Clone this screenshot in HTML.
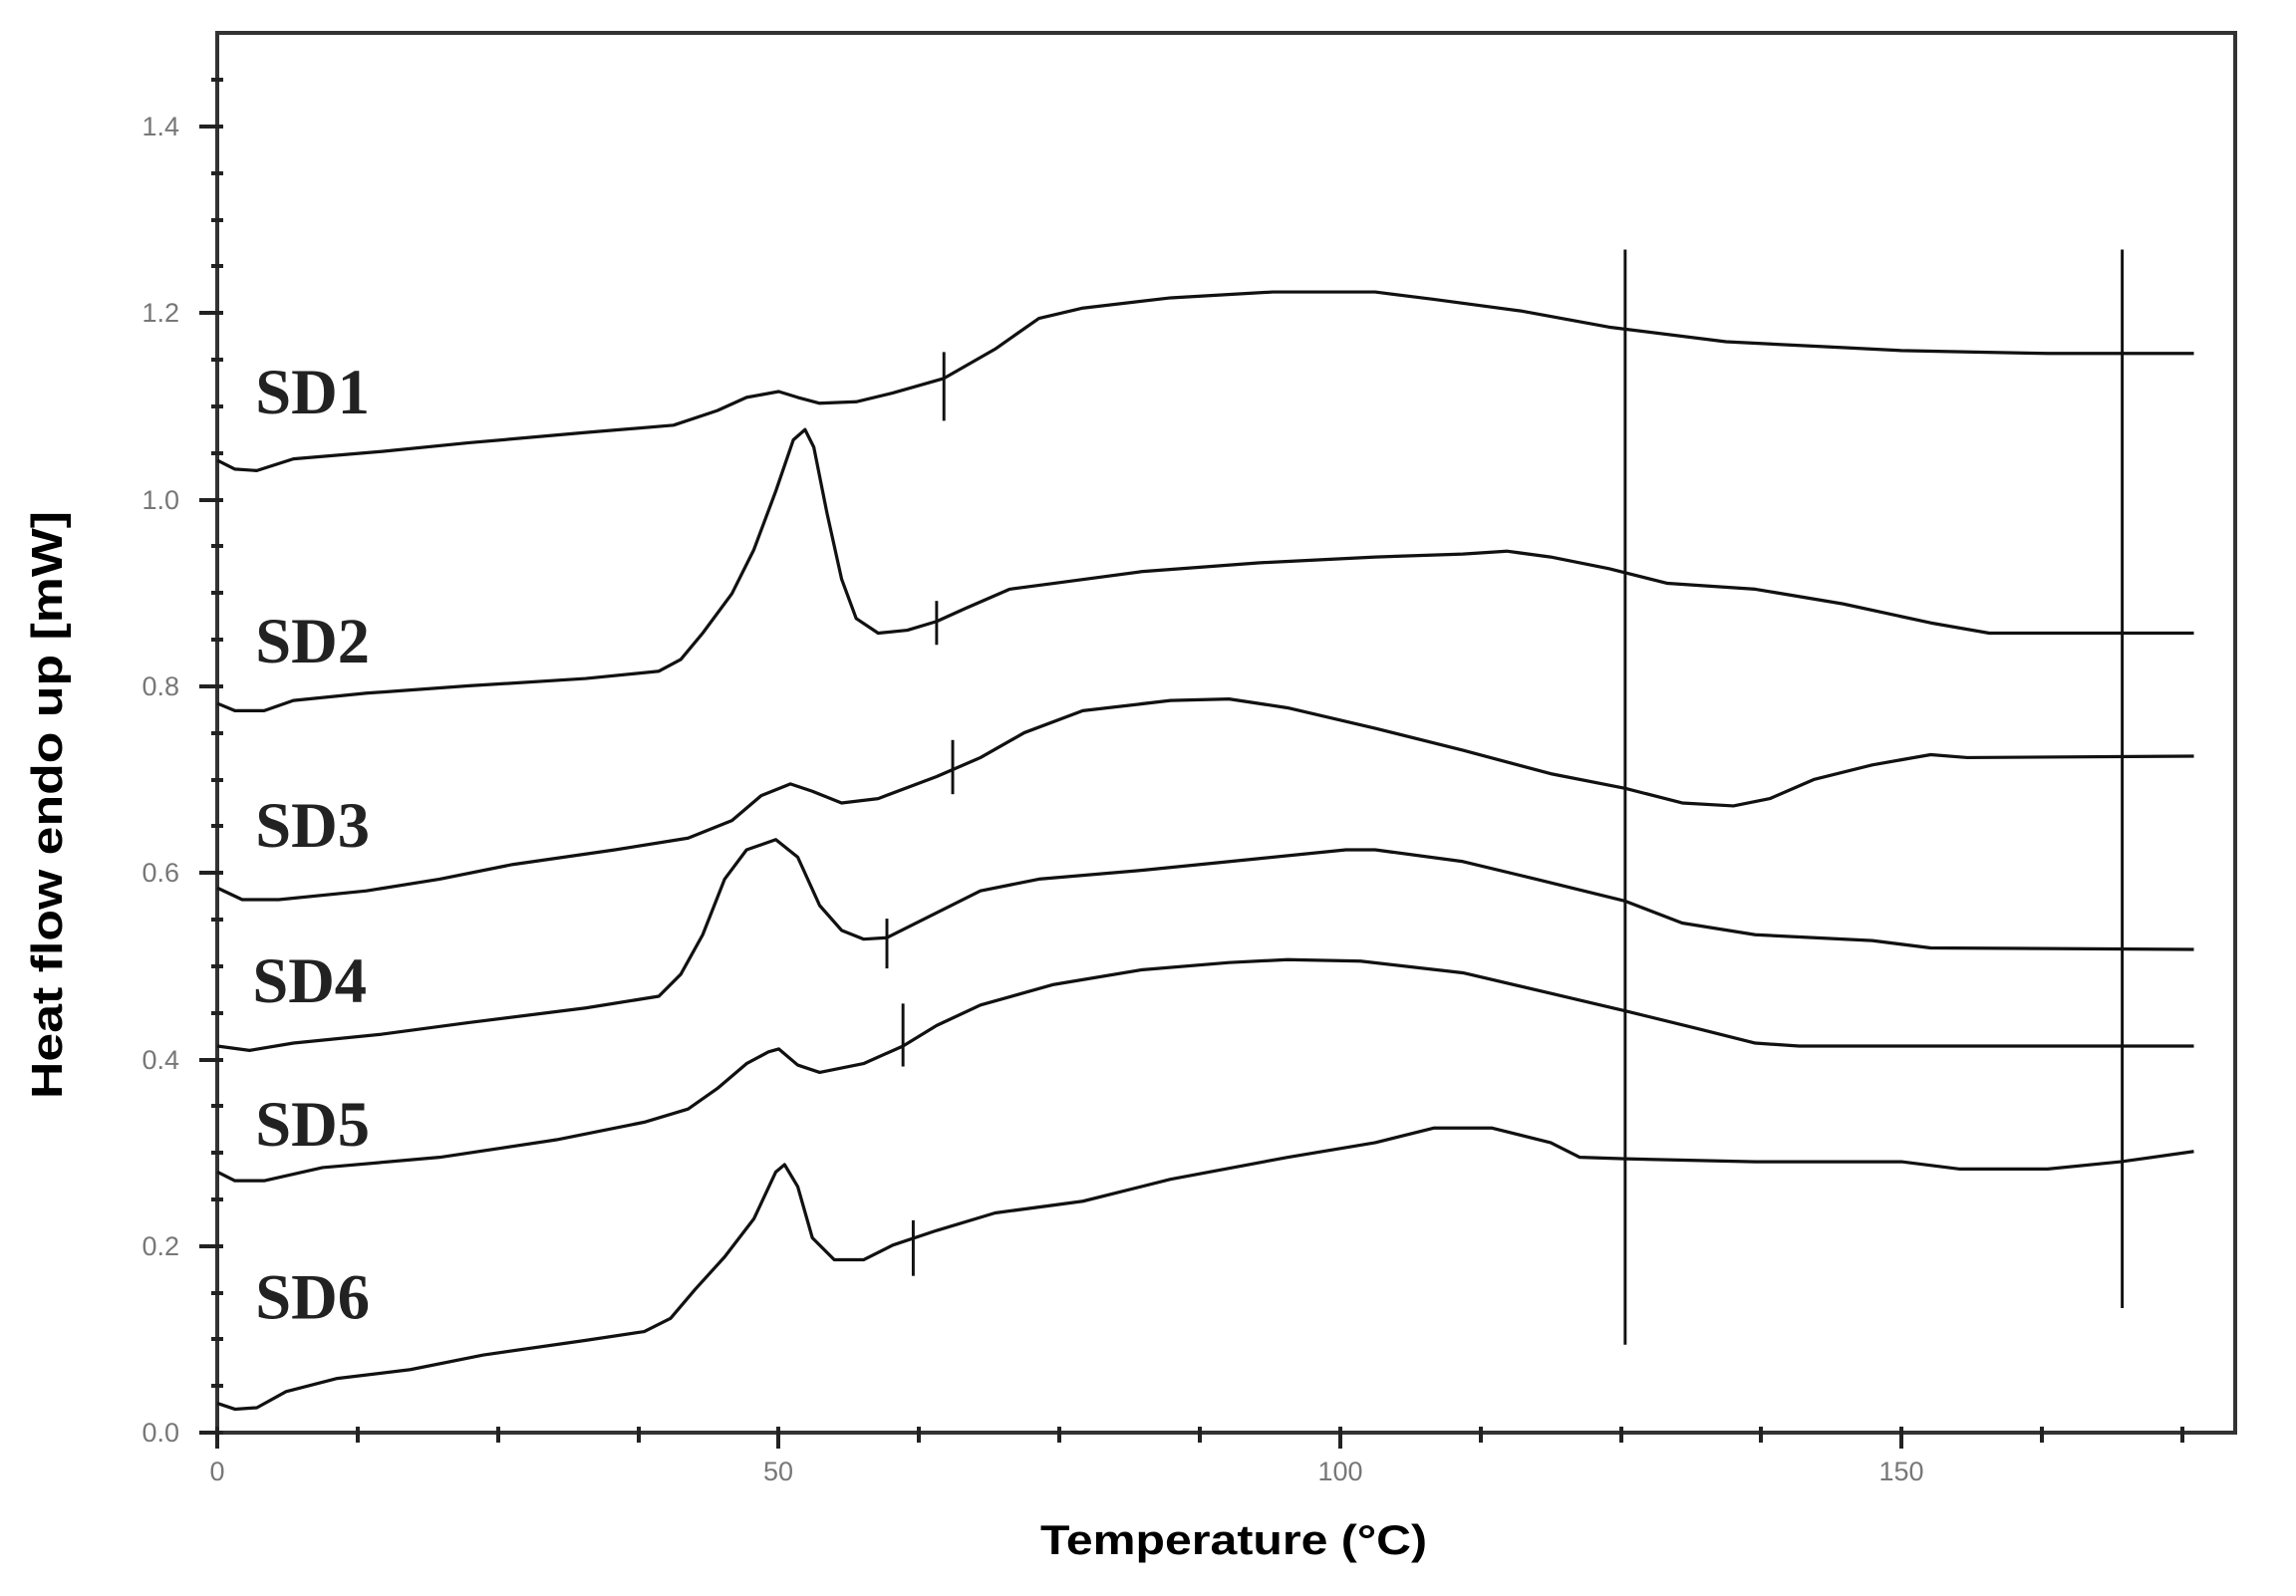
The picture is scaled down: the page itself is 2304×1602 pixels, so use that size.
<!DOCTYPE html>
<html><head><style>html,body{margin:0;padding:0;background:#fff}svg{display:block}</style></head>
<body>
<svg width="2304" height="1602" viewBox="0 0 2304 1602" xmlns="http://www.w3.org/2000/svg">
<rect width="2304" height="1602" fill="#fff"/>
<rect x="218" y="33" width="2025" height="1405" fill="none" stroke="#333" stroke-width="4"/>
<g stroke="#222" stroke-width="4">
<line x1="200" y1="1438" x2="224" y2="1438"/><line x1="200" y1="1251" x2="224" y2="1251"/><line x1="200" y1="1064" x2="224" y2="1064"/><line x1="200" y1="876" x2="224" y2="876"/><line x1="200" y1="689" x2="224" y2="689"/><line x1="200" y1="502" x2="224" y2="502"/><line x1="200" y1="314" x2="224" y2="314"/><line x1="200" y1="127" x2="224" y2="127"/>
</g>
<g stroke="#222" stroke-width="4">
<line x1="212" y1="1391" x2="224" y2="1391"/><line x1="212" y1="1344" x2="224" y2="1344"/><line x1="212" y1="1298" x2="224" y2="1298"/>
<line x1="212" y1="1204" x2="224" y2="1204"/><line x1="212" y1="1157" x2="224" y2="1157"/><line x1="212" y1="1110" x2="224" y2="1110"/>
<line x1="212" y1="1017" x2="224" y2="1017"/><line x1="212" y1="970" x2="224" y2="970"/><line x1="212" y1="923" x2="224" y2="923"/>
<line x1="212" y1="829" x2="224" y2="829"/><line x1="212" y1="783" x2="224" y2="783"/><line x1="212" y1="736" x2="224" y2="736"/>
<line x1="212" y1="642" x2="224" y2="642"/><line x1="212" y1="595" x2="224" y2="595"/><line x1="212" y1="548" x2="224" y2="548"/>
<line x1="212" y1="455" x2="224" y2="455"/><line x1="212" y1="408" x2="224" y2="408"/><line x1="212" y1="361" x2="224" y2="361"/>
<line x1="212" y1="267" x2="224" y2="267"/><line x1="212" y1="221" x2="224" y2="221"/><line x1="212" y1="174" x2="224" y2="174"/>
<line x1="212" y1="80" x2="224" y2="80"/>
</g>
<g stroke="#222" stroke-width="4">
<line x1="218" y1="1432" x2="218" y2="1454"/>
<line x1="359" y1="1432" x2="359" y2="1448"/><line x1="500" y1="1432" x2="500" y2="1448"/><line x1="641" y1="1432" x2="641" y2="1448"/>
<line x1="781" y1="1432" x2="781" y2="1454"/>
<line x1="922" y1="1432" x2="922" y2="1448"/><line x1="1063" y1="1432" x2="1063" y2="1448"/><line x1="1204" y1="1432" x2="1204" y2="1448"/>
<line x1="1345" y1="1432" x2="1345" y2="1454"/>
<line x1="1486" y1="1432" x2="1486" y2="1448"/><line x1="1627" y1="1432" x2="1627" y2="1448"/><line x1="1767" y1="1432" x2="1767" y2="1448"/>
<line x1="1908" y1="1432" x2="1908" y2="1454"/>
<line x1="2049" y1="1432" x2="2049" y2="1448"/><line x1="2190" y1="1432" x2="2190" y2="1448"/>
</g>
<g font-family="Liberation Sans, sans-serif" font-size="27" fill="#777" text-anchor="end">
<text x="180" y="1447">0.0</text><text x="180" y="1260">0.2</text><text x="180" y="1073">0.4</text><text x="180" y="885">0.6</text><text x="180" y="698">0.8</text><text x="180" y="511">1.0</text><text x="180" y="323">1.2</text><text x="180" y="136">1.4</text>
</g>
<g font-family="Liberation Sans, sans-serif" font-size="27" fill="#777" text-anchor="middle">
<text x="218" y="1486">0</text><text x="781" y="1486">50</text><text x="1345" y="1486">100</text><text x="1908" y="1486">150</text>
</g>
<text x="1238" y="1560" font-family="Liberation Sans, sans-serif" font-weight="bold" font-size="42" text-anchor="middle" textLength="388" lengthAdjust="spacingAndGlyphs">Temperature (°C)</text>
<text transform="translate(62,808) rotate(-90)" font-family="Liberation Sans, sans-serif" font-weight="bold" font-size="44" text-anchor="middle" textLength="590" lengthAdjust="spacingAndGlyphs">Heat flow endo up [mW]</text>
<g transform="translate(1,0.6) scale(1.467,1.4697)">
<g fill="none" stroke="#111" stroke-width="2.2" stroke-linejoin="round">
<polyline points="148,314 160,320 175,321 200,313 260,308 320,302 400,295 460,290 490,280 510,271 532,267 545,271 560,275 585,274 610,268 645,258 680,238 710,217 740,210 800,203 870,199 940,199 980,204 1040,212 1100,223 1180,233 1260,237 1300,239 1350,240 1400,241 1500,241"/>
<polyline points="148,480 160,485 180,485 200,478 250,473 320,468 400,463 450,458 465,450 480,432 500,405 515,375 530,335 542,300 550,293 556,305 565,350 575,395 585,422 600,432 620,430 640,424 660,415 690,402 720,398 780,390 860,384 940,380 1000,378 1030,376 1060,380 1100,388 1140,398 1200,402 1260,412 1320,425 1360,432 1500,432"/>
<polyline points="148,606 165,614 190,614 250,608 300,600 350,590 420,580 470,572 500,560 520,543 540,535 555,540 575,548 600,545 640,530 670,517 700,500 740,485 800,478 840,477 880,483 940,497 1000,512 1060,528 1111,538 1150,548 1185,550 1210,545 1240,532 1280,522 1320,515 1345,517 1500,516"/>
<polyline points="148,714 170,717 200,712 260,706 320,698 400,688 450,680 465,665 480,638 495,600 510,580 530,573 545,585 560,618 575,635 590,641 606,640 630,628 670,608 710,600 780,594 860,586 920,580 940,580 1000,588 1050,600 1111,615 1150,630 1200,638 1280,642 1320,647 1500,648"/>
<polyline points="148,800 160,806 180,806 220,797 300,790 380,778 440,766 470,757 490,743 510,726 525,718 532,716 545,727 560,732 590,726 617,714 640,700 670,686 720,672 780,662 840,657 880,655 930,656 1000,664 1060,678 1111,690 1160,702 1200,712 1230,714 1500,714"/>
<polyline points="148,958 160,962 175,961 195,950 230,941 280,935 330,925 400,915 440,909 458,900 475,880 495,858 515,832 530,800 536,795 545,810 555,845 570,860 590,860 610,850 640,840 680,828 740,820 800,805 880,790 940,780 980,770 1020,770 1060,780 1080,790 1111,791 1200,793 1300,793 1340,798 1400,798 1450,793 1500,786"/>
</g>
<g stroke="#111" stroke-width="2">
<line x1="1111" y1="170" x2="1111" y2="918"/><line x1="1451" y1="170" x2="1451" y2="893"/>
<line x1="645" y1="240" x2="645" y2="287"/><line x1="640" y1="410" x2="640" y2="440"/><line x1="651" y1="505" x2="651" y2="542"/><line x1="606" y1="627" x2="606" y2="661"/><line x1="617" y1="685" x2="617" y2="728"/><line x1="624" y1="833" x2="624" y2="871"/>
</g>
<g font-family="Liberation Serif, serif" font-weight="bold" font-size="44" fill="#222">
<text x="174" y="282">SD1</text><text x="174" y="452">SD2</text><text x="174" y="578">SD3</text><text x="172" y="684">SD4</text><text x="174" y="782">SD5</text><text x="174" y="900">SD6</text>
</g>
</g>
</svg>
</body></html>
